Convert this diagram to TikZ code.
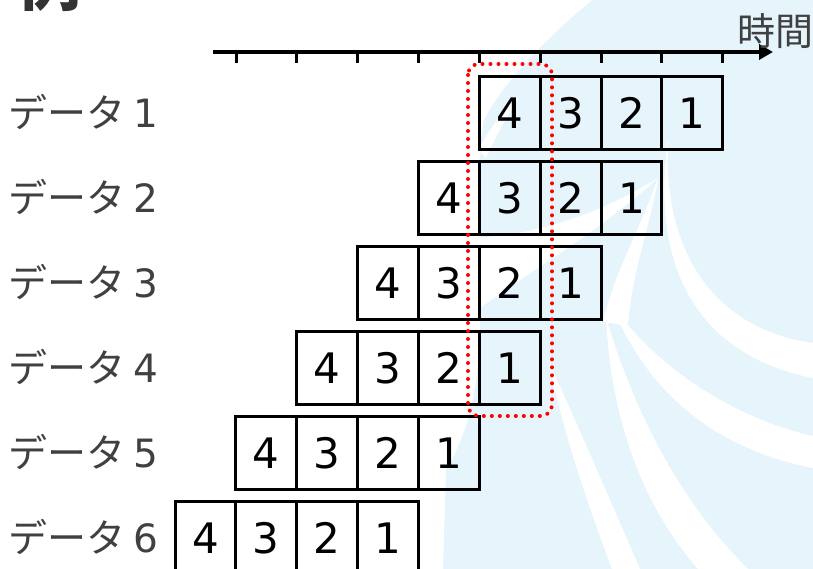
\documentclass[tikz,border=0pt]{standalone}
\usepackage{fontspec}
\newfontfamily\cjk{Noto Sans CJK JP}
\newfontfamily\digitfont{DejaVu Sans}
\usetikzlibrary{arrows.meta}
\definecolor{wmblue}{RGB}{230,244,251}
\definecolor{labelgray}{RGB}{64,64,64}
\definecolor{titlegray}{RGB}{51,51,51}
\definecolor{selred}{RGB}{255,0,0}
\tikzset{
  cell/.style={draw=black, line width=3pt, minimum width=60.85pt, minimum height=72.5pt,
    inner sep=0pt, outer sep=0pt, font=\digitfont\fontsize{42}{42}\selectfont, anchor=north west},
  rowlabel/.style={anchor=west, text=labelgray, inner sep=0pt, font=\cjk\fontsize{39}{39}\selectfont},
  axisline/.style={line width=3.5pt, -{Triangle[length=14pt,width=15pt]}},
  tick/.style={line width=3pt},
  selbox/.style={draw=selred, line width=4pt, line cap=round, dash pattern=on 0pt off 8pt, rounded corners=11pt},
  wm/.style={fill=wmblue},
  wmw/.style={fill=white}
}
\begin{document}
\begin{tikzpicture}[x=1pt,y=-1pt]
\useasboundingbox (0,0) rectangle (813,569);
% watermark (light blue base)
\fill[wm] (592,0) -- (813,0) -- (813,569) -- (443,569) -- (446,470)
  .. controls (470,430) and (482,380) .. (480,300)
  .. controls (478,230) and (476,160) .. (484,120)
  .. controls (505,80) and (545,40) .. (592,0) -- cycle;
% white swooshes
\fill[wmw] (405,232) .. controls (480,248) and (570,232) .. (658,178)
  .. controls (590,240) and (520,275) .. (440,338) -- cycle;
\fill[wmw] (658,178) .. controls (640,230) and (615,270) .. (603,322)
  -- (628,326) .. controls (632,270) and (650,228) .. (658,178) -- cycle;
\fill[wmw] (668,138) .. controls (662,260) and (720,330) .. (813,343)
  -- (813,378) .. controls (712,358) and (648,285) .. (668,138) -- cycle;
\fill[wmw] (612,305) .. controls (660,372) and (740,420) .. (813,436)
  -- (813,468) .. controls (728,452) and (650,402) .. (612,305) -- cycle;
\fill[wmw] (606,318) .. controls (612,440) and (655,520) .. (698,569)
  -- (748,569) .. controls (690,512) and (640,430) .. (606,318) -- cycle;
\fill[wmw] (548,360) .. controls (565,440) and (590,510) .. (612,569)
  -- (640,569) .. controls (610,500) and (580,430) .. (548,360) -- cycle;
\fill[wmw] (478,150) .. controls (490,128) and (505,108) .. (520,96)
  .. controls (508,115) and (496,135) .. (486,158) -- cycle;
% title (partially visible)
\node[anchor=base west, inner sep=0pt, text=titlegray, font=\cjk\bfseries\fontsize{64}{64}\selectfont] (title) at (17,6) {例};
% time axis
\coordinate (axstart) at (213,52);
\coordinate (axend) at (773,52);
\draw[axisline] (axstart) -- (axend);
\foreach \k in {0,...,8} {
  \draw[tick] ({236+60.85*\k},52) -- ({236+60.85*\k},63);
}
\node[anchor=west, inner sep=0pt, text=labelgray, font=\cjk\fontsize{38}{38}\selectfont] (timelabel) at (737,31) {時間};
% rows
\foreach \r in {1,...,6} {
  \pgfmathsetmacro{\top}{76.7+85*(\r-1)}
  \pgfmathsetmacro{\left}{479.3-60.85*(\r-1)}
  \node[rowlabel] (lab\r) at (8,{\top+35}) {データ\hspace{8pt}{\digitfont\fontsize{39}{39}\selectfont\r}};
  \foreach \c/\v in {0/4,1/3,2/2,3/1} {
    \node[cell] (c\r\v) at ({\left+60.85*\c},\top) {\v};
  }
}
% selection
\draw[selbox] (468,64) rectangle (552,416);
\end{tikzpicture}
\end{document}
